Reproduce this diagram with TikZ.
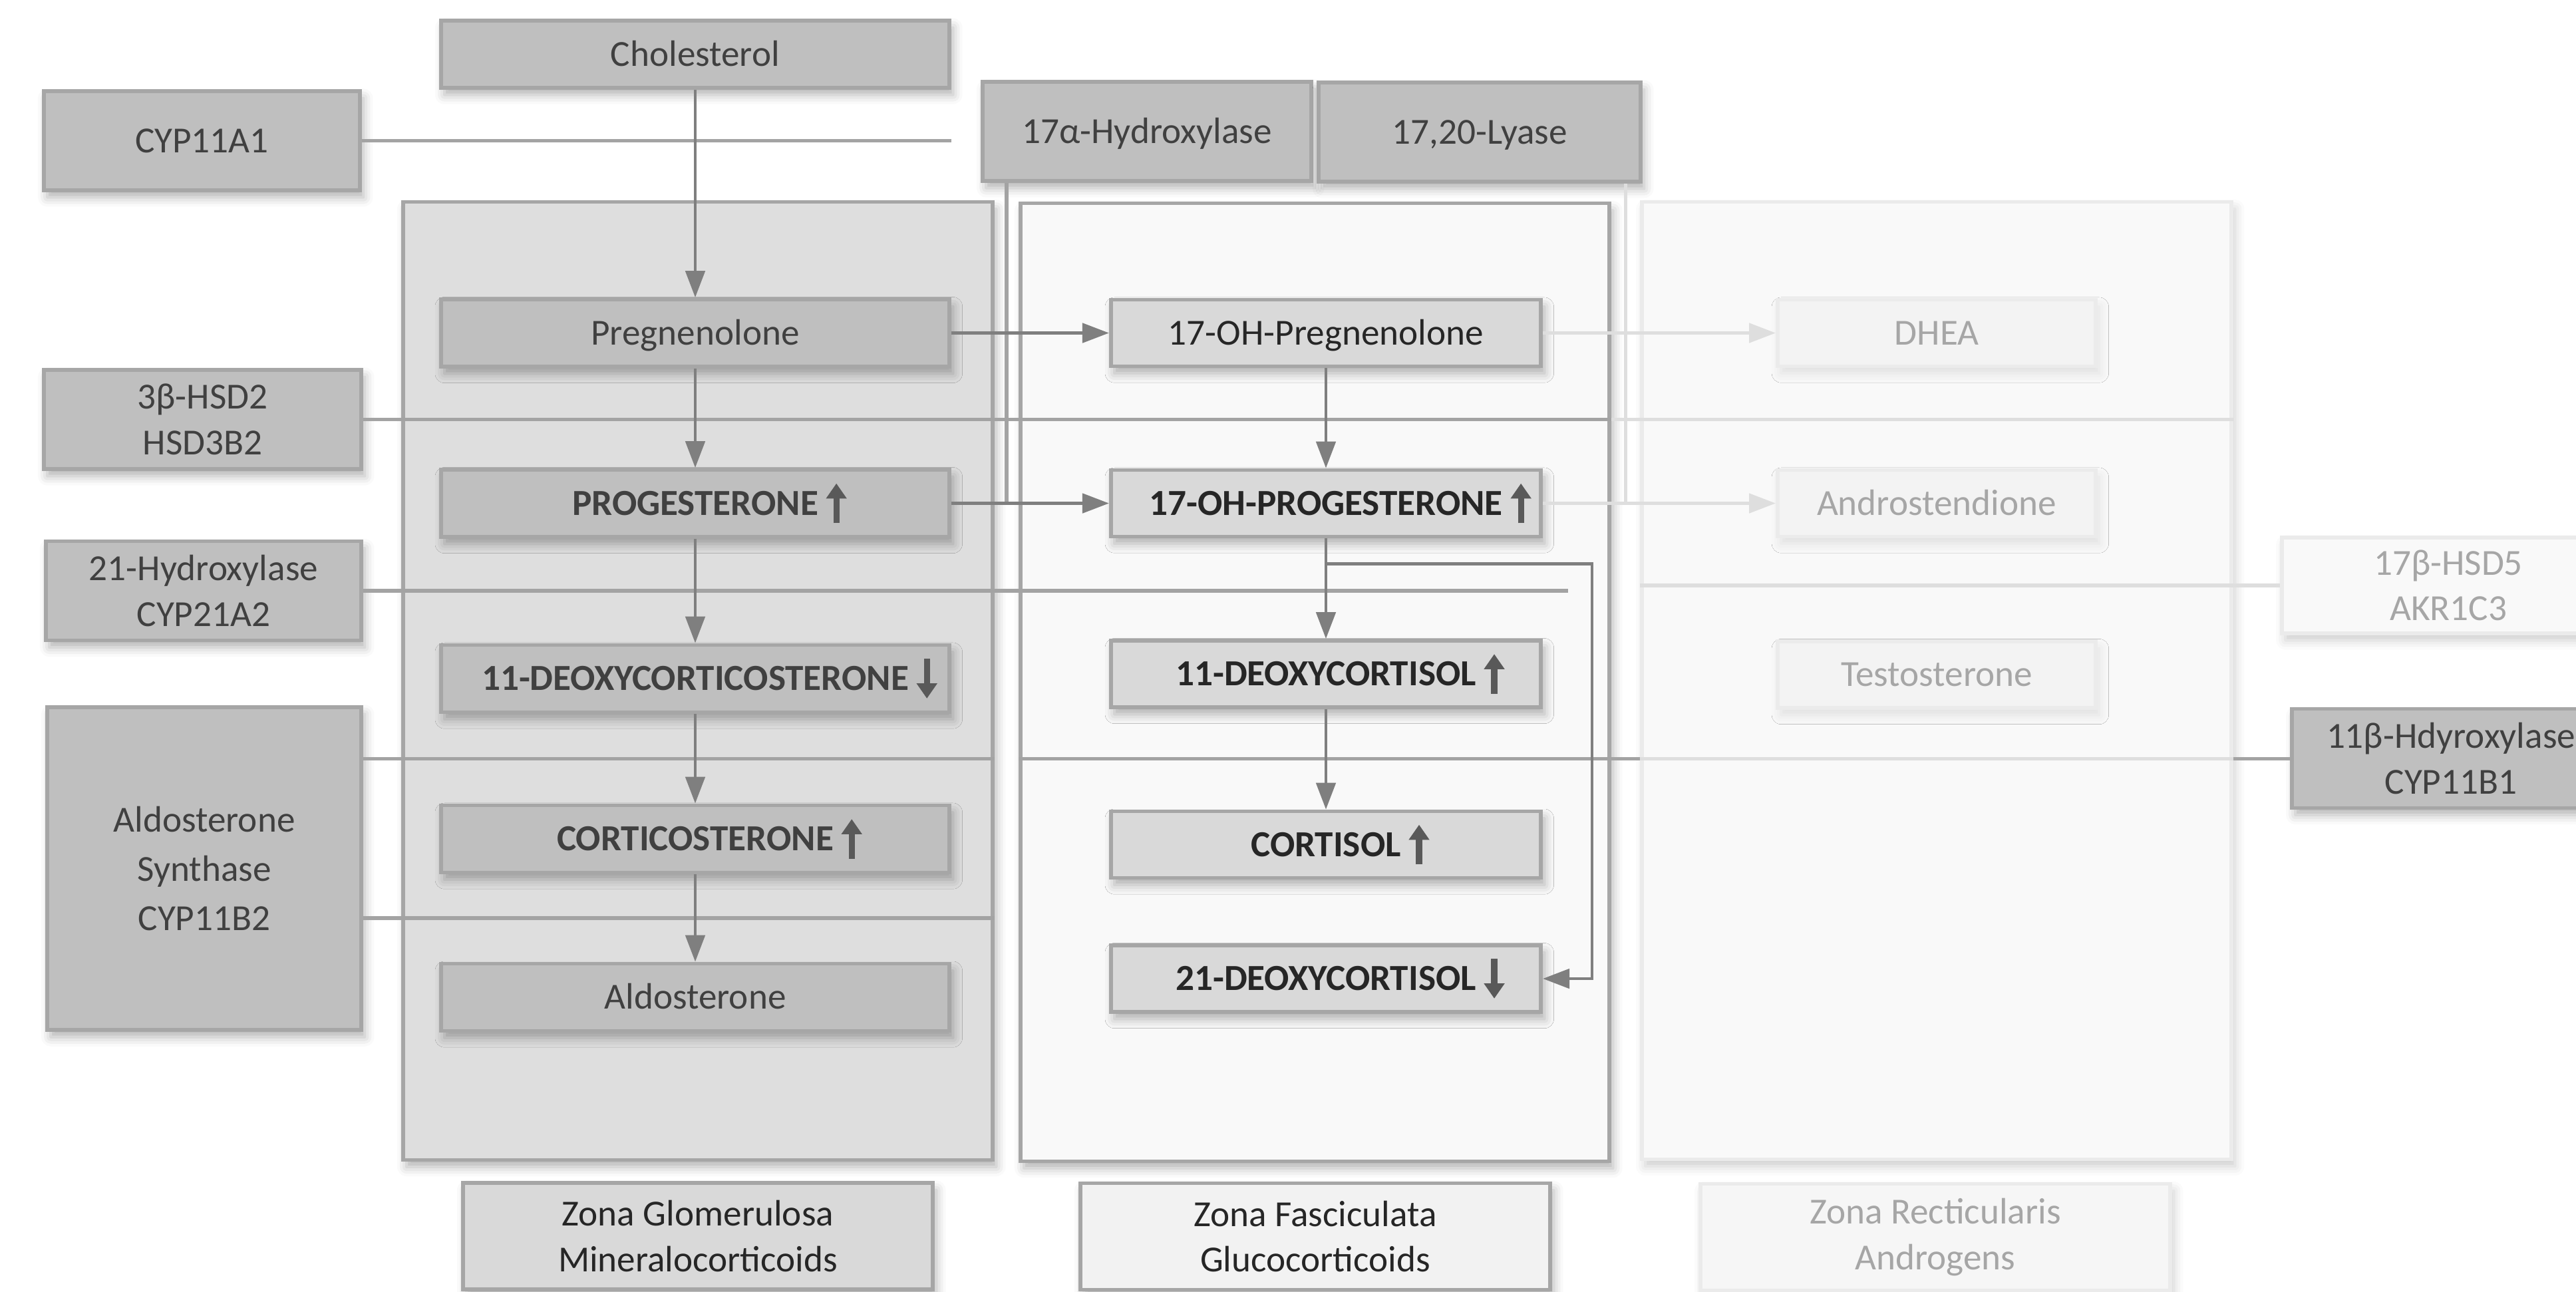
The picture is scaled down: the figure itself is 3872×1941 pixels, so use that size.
\documentclass[tikz,border=0pt]{standalone}
\usepackage{fontspec}
\setmainfont{Carlito}
\usepackage{xcolor}
\usepackage{tikz}
\usetikzlibrary{arrows.meta,positioning,calc,shadows.blur}
\definecolor{enzfill}{HTML}{BFBFBF}
\definecolor{rimgray}{HTML}{A6A6A6}
\definecolor{inkgray}{HTML}{404040}
\definecolor{deepink}{HTML}{262626}
\definecolor{zgfill}{HTML}{DEDEDE}
\definecolor{zffill}{HTML}{F9F9F9}
\definecolor{zfbox}{HTML}{D9D9D9}
\definecolor{zrfill}{HTML}{F9F9F9}
\definecolor{zrrim}{HTML}{EBEBEB}
\definecolor{zrbox}{HTML}{F3F3F3}
\definecolor{zrink}{HTML}{A6A6A6}
\definecolor{linegray}{HTML}{7F7F7F}
\definecolor{enzline}{HTML}{A3A3A3}
\definecolor{paleline}{HTML}{DEDEDE}
\definecolor{markgray}{HTML}{595959}
\definecolor{zglab}{HTML}{D9D9D9}
\definecolor{zflab}{HTML}{F2F2F2}
\definecolor{zrlab}{HTML}{F6F6F6}

\newcommand{\hausse}{\rlap{\hspace{3.5pt}\smash{\tikz[baseline=0pt]
  \draw[markgray,line width=2.6pt,-{Triangle[length=6.5pt,width=8.5pt]}] (0pt,-3.4pt) -- (0pt,13.6pt);}}}
\newcommand{\baisse}{\rlap{\hspace{3.5pt}\smash{\tikz[baseline=0pt]
  \draw[markgray,line width=2.6pt,-{Triangle[length=6.5pt,width=8.5pt]}] (0pt,13.6pt) -- (0pt,-3.4pt);}}}

\begin{document}
\begin{tikzpicture}[
    x=0.01cm,y=-0.01cm,
    font=\fontsize{15.7pt}{19.5pt}\selectfont,
    lift/.style    = {blur shadow={shadow xshift=1.5pt,shadow yshift=-3pt,
                      shadow blur radius=4pt,shadow opacity=30}},
    softlift/.style= {blur shadow={shadow xshift=1.5pt,shadow yshift=-3pt,
                      shadow blur radius=4pt,shadow opacity=10}},
    oneline/.style = {text height=10.2pt,text depth=0pt},
    zone/.style    = {rectangle,draw=rimgray,line width=1.6pt,inner sep=0pt,lift},
    enzyme/.style  = {rectangle,draw=rimgray,line width=1.6pt,fill=enzfill,text=inkgray,
                      align=center,inner sep=0pt,minimum height=1.49cm,lift},
    zgstep/.style  = {rectangle,draw=rimgray,line width=1.6pt,fill=enzfill,text=inkgray,
                      inner sep=0pt,minimum width=7.64cm,minimum height=1.01cm,oneline,lift},
    zfstep/.style  = {rectangle,draw=rimgray,line width=1.6pt,fill=zfbox,text=deepink,
                      inner sep=0pt,minimum width=6.46cm,minimum height=1.0cm,oneline,lift},
    zrstep/.style  = {rectangle,draw=zrrim,line width=1.6pt,fill=zrbox,text=zrink,
                      inner sep=0pt,minimum width=4.78cm,minimum height=1.0cm,oneline,softlift},
    zlabel/.style  = {rectangle,draw=rimgray,line width=1.6pt,text=deepink,align=center,
                      inner sep=0pt,minimum width=7.06cm,minimum height=1.6cm,lift},
    arr/.style     = {linegray,line width=1.4pt,-{Triangle[length=0.4cm,width=0.29cm]}},
    palearr/.style = {arr,paleline},
    enz/.style     = {enzline,line width=1.5pt},
    paleenz/.style = {paleline,line width=1.5pt},
  ]
  \useasboundingbox (0,0) rectangle (3872,1941);
  \clip (0,0) rectangle (3872,1941);

  % ── Zones et étiquettes ───────────────────────────────────────────────────
  \node[zone,fill=zgfill,minimum width=8.86cm,minimum height=14.39cm] (zg) at (1049,1023.5) {};
  \node[zone,fill=zffill,minimum width=8.85cm,minimum height=14.39cm] (zf) at (1976.5,1025.5) {};
  \node[zone,draw=zrrim,fill=zrfill,softlift,minimum width=8.86cm,minimum height=14.38cm]
       (zr) at (2911,1023) {};

  \node[zlabel,fill=zglab] (lzg) at (1049,1858) {Zona Glomerulosa\\Mineralocorticoids};
  \node[zlabel,fill=zflab] (lzf) at (1977,1858.5) {Zona Fasciculata\\Glucocorticoids};
  \node[zlabel,fill=zrlab,draw=zrrim,text=zrink,softlift] (lzr) at (2909,1859.5)
       {Zona Recticularis\\Androgens};

  % ── Enzymes ───────────────────────────────────────────────────────────────
  \node[enzyme,oneline,minimum width=4.75cm] (cyp11a1) at (303.5,211.5) {CYP11A1};
  \node[enzyme,minimum width=4.77cm] (hsd3b2) at (304.5,630.5) {3β-HSD2\\HSD3B2};
  \node[enzyme,minimum width=4.74cm] (cyp21)  at (306,888) {21-Hydroxylase\\CYP21A2};
  \node[enzyme,minimum width=4.72cm,minimum height=4.85cm,
        font=\fontsize{15.7pt}{21pt}\selectfont] (cyp11b2) at (307,1305.5)
       {Aldosterone\\Synthase\\CYP11B2};
  \node[enzyme,oneline,minimum width=4.94cm] (cyp17h) at (1724,197.5) {17α-Hydroxylase};
  \node[enzyme,oneline,minimum width=4.84cm] (cyp17l) at (2224,198.5) {17,20-Lyase};
  \node[enzyme,minimum width=4.78cm] (cyp11b1) at (3684,1140) {11β-Hdyroxylase\\CYP11B1};
  \node[enzyme,fill=zrfill,draw=zrrim,text=zrink,softlift,minimum width=5.0cm,
        minimum height=1.44cm] (akr1c3) at (3680,880) {17β-HSD5\\AKR1C3};

  % ── Zona glomerulosa ──────────────────────────────────────────────────────
  \node[zgstep] (chol)    at (1045,81.5)  {Cholesterol};
  \node[zgstep] (preg)    at (1045,500.5) {Pregnenolone};
  \node[zgstep] (prog)    at (1045,756.5) {\bfseries PROGESTERONE\hausse};
  \node[zgstep] (doc)     at (1045,1020)  {\bfseries 11-DEOXYCORTICOSTERONE\baisse};
  \node[zgstep] (cortico) at (1045,1261)  {\bfseries CORTICOSTERONE\hausse};
  \node[zgstep] (aldo)    at (1045,1499)  {Aldosterone};

  % ── Zona fasciculata ──────────────────────────────────────────────────────
  \node[zfstep] (ohpreg)   at (1993,500.5) {17-OH-Pregnenolone};
  \node[zfstep] (ohprog)   at (1993,756.5) {\bfseries 17-OH-PROGESTERONE\hausse};
  \node[zfstep] (deoxyc)   at (1993,1013)  {\bfseries 11-DEOXYCORTISOL\hausse};
  \node[zfstep] (cortisol) at (1993,1269.5) {\bfseries CORTISOL\hausse};
  \node[zfstep] (deoxy21)  at (1993,1471)  {\bfseries 21-DEOXYCORTISOL\baisse};

  % ── Zona reticularis ──────────────────────────────────────────────────────
  \node[zrstep] (dhea)  at (2911,500.5) {DHEA};
  \node[zrstep] (andro) at (2911,756.5) {Androstendione};
  \node[zrstep] (testo) at (2911,1014)  {Testosterone};

  % ── Lignes des enzymes ────────────────────────────────────────────────────
  \coordinate (g17)   at ($(zg.east)!.5!(zf.west)$);
  \coordinate (g1720) at ($(zf.east)!.5!(zr.west)$);
  \coordinate (s11)   at ($(doc.south)!.5!(cortico.north)$);
  \coordinate (s18)   at ($(cortico.south)!.5!(aldo.north)$);
  \coordinate (e21)   at (2357,888);

  \draw[enz] (cyp11a1.east) -- (cyp11a1.east -| chol.east);
  \draw[enz] (hsd3b2.east) -- (hsd3b2.east -| zf.east);
  \draw[paleenz] (hsd3b2.east -| zf.east) -- (hsd3b2.east -| zr.east);
  \draw[enz] (cyp21.east) -- (e21);
  \draw[paleenz] (akr1c3.west) -- (akr1c3.west -| zr.west);
  \draw[enz] (cyp11b2.east |- s11) -- (zg.east |- s11);
  \draw[enz] (cyp11b2.east |- s18) -- (zg.east |- s18);
  \draw[enz] (zf.west |- s11) -- (zr.west |- s11);
  \draw[paleenz] (zr.west |- s11) -- (zr.east |- s11);
  \draw[enz] (zr.east |- s11) -- (cyp11b1.west |- s11);
  \draw[enz] (g17 |- cyp17h.south) -- (g17 |- ohprog.west);
  \draw[paleenz] (g1720 |- cyp17l.south) -- (g1720 |- andro.west);

  % ── Flèches de synthèse ───────────────────────────────────────────────────
  \foreach \a/\b in {chol/preg,preg/prog,prog/doc,doc/cortico,cortico/aldo,
                     ohpreg/ohprog,ohprog/deoxyc,deoxyc/cortisol}
    \draw[arr] (\a.south) -- (\b.north);
  \draw[arr] (preg.east) -- (ohpreg.west);
  \draw[arr] (prog.east) -- (ohprog.west);
  \draw[arr] (ohprog.south) ++(0,38) -- ++(400,0) |- (deoxy21.east);
  \draw[palearr] (ohpreg.east) -- (dhea.west);
  \draw[palearr] (ohprog.east) -- (andro.west);

\end{tikzpicture}
\end{document}
